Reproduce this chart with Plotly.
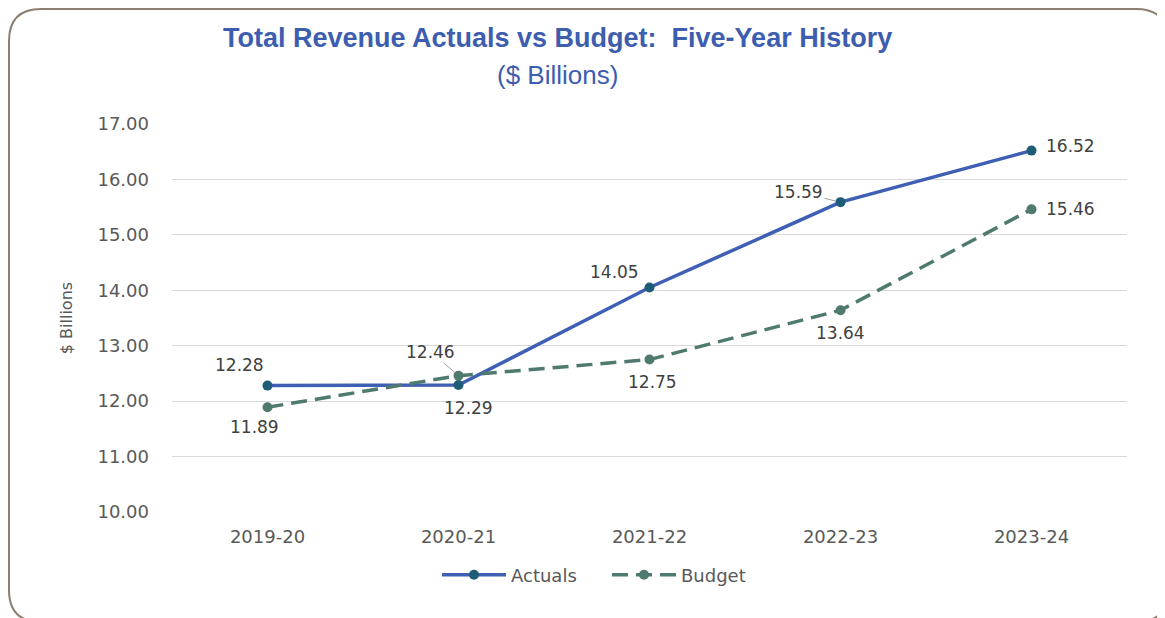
import plotly.graph_objects as go

years = ["2019-20", "2020-21", "2021-22", "2022-23", "2023-24"]
actuals = [12.28, 12.29, 14.05, 15.59, 16.52]
budget = [11.89, 12.46, 12.75, 13.64, 15.46]
y_ticks = [10, 11, 12, 13, 14, 15, 16, 17]

# label offsets in pixels (style only)
actual_shift = [(-28, 21), (10, -23), (-35, 16), (-40, 10), (39, 5)]
budget_shift = [(-13, -20), (-28, 23), (3, -22), (0, -23), (39, 0)]

# page has an 8px body margin, so work in page pixels and shift
OFF = 8
W, H = 1165 - OFF, 618 - OFF
L, T = 172 - OFF, 124 - OFF
R = W - (1127 - OFF)
B = H - (512 - OFF)
PW, PH = W - L - R, H - T - B


def px(x):
    return (x - OFF - L) / PW


def py(y):
    return (H - B - (y - OFF)) / PH


fig = go.Figure()
fig.add_trace(
    go.Scatter(
        x=years,
        y=actuals,
        name="Actuals",
        mode="lines+markers",
        line=dict(color="#3F5FB5", width=3.5),
        marker=dict(color="#1E5C78", size=10),
        cliponaxis=False,
    )
)
fig.add_trace(
    go.Scatter(
        x=years,
        y=budget,
        name="Budget",
        mode="lines+markers",
        line=dict(color="#4F7A6F", width=3.5, dash="16px,8px"),
        marker=dict(color="#4F7A6F", size=10),
        cliponaxis=False,
    )
)

label_font = dict(family="DejaVu Sans", size=17, color="#404040")
annotations = []
for series, shifts in ((actuals, actual_shift), (budget, budget_shift)):
    for yr, v, (dx, dy) in zip(years, series, shifts):
        annotations.append(
            dict(x=yr, y=v, text=f"{v:.2f}", showarrow=False,
                 xshift=dx, yshift=dy, font=label_font)
        )
# leader lines for the two crowded labels
annotations[3].update(showarrow=True, arrowhead=0, arrowwidth=1, arrowcolor="#A0A0A0",
                      ax=-42, ay=-10, xshift=0, yshift=0, standoff=5)
annotations[6].update(showarrow=True, arrowhead=0, arrowwidth=1, arrowcolor="#A0A0A0",
                      ax=-28, ay=-24, xshift=0, yshift=0, standoff=5)

annotations.append(dict(
    xref="paper", yref="paper", x=px(557), y=py(38), showarrow=False,
    xanchor="center", yanchor="middle",
    text="<b>Total Revenue Actuals vs Budget:  Five-Year History</b>",
    font=dict(family="Liberation Sans", size=27, color="#3D5DAF"),
))
annotations.append(dict(
    xref="paper", yref="paper", x=px(557), y=py(75), showarrow=False,
    xanchor="center", yanchor="middle",
    text="($ Billions)",
    font=dict(family="Liberation Sans", size=26, color="#3D5DAF"),
))

# rounded border round the whole chart
x0, x1, y0, y1, r = OFF + 1, 1168, OFF + 1, 622, 32
path = (
    f"M {px(x0 + r)},{py(y0)} L {px(x1 - r)},{py(y0)} "
    f"Q {px(x1)},{py(y0)} {px(x1)},{py(y0 + r)} "
    f"L {px(x1)},{py(y1 - r)} Q {px(x1)},{py(y1)} {px(x1 - r)},{py(y1)} "
    f"L {px(x0 + r)},{py(y1)} Q {px(x0)},{py(y1)} {px(x0)},{py(y1 - r)} "
    f"L {px(x0)},{py(y0 + r)} Q {px(x0)},{py(y0)} {px(x0 + r)},{py(y0)} Z"
)

fig.update_layout(
    width=W,
    height=H,
    margin=dict(l=L, r=R, t=T, b=B),
    paper_bgcolor="white",
    plot_bgcolor="white",
    font=dict(family="DejaVu Sans", color="#595959"),
    annotations=annotations,
    shapes=[dict(type="path", xref="paper", yref="paper", path=path,
                 line=dict(color="#8C7F70", width=2), layer="below")],
    legend=dict(
        orientation="h", x=px(437), xanchor="left", y=py(575), yanchor="middle",
        font=dict(family="DejaVu Sans", size=18, color="#595959"),
        itemwidth=64,
        entrywidth=91,
        entrywidthmode="pixels",
    ),
    showlegend=True,
)
fig.update_xaxes(
    range=[-0.5, 4.5],
    showgrid=False,
    showline=False,
    zeroline=False,
    tickfont=dict(family="DejaVu Sans", size=18, color="#595959"),
    ticklabelstandoff=12,
)
fig.update_yaxes(
    range=[10, 17],
    tickvals=y_ticks,
    tickformat=".2f",
    showgrid=True,
    gridcolor="#D9D9D9",
    gridwidth=1,
    zeroline=False,
    showline=False,
    tickfont=dict(family="DejaVu Sans", size=18, color="#595959"),
    ticklabelstandoff=22,
    title=dict(text="$ Billions", font=dict(family="DejaVu Sans", size=16, color="#595959"),
               standoff=20),
)

fig.write_html("out.html")
